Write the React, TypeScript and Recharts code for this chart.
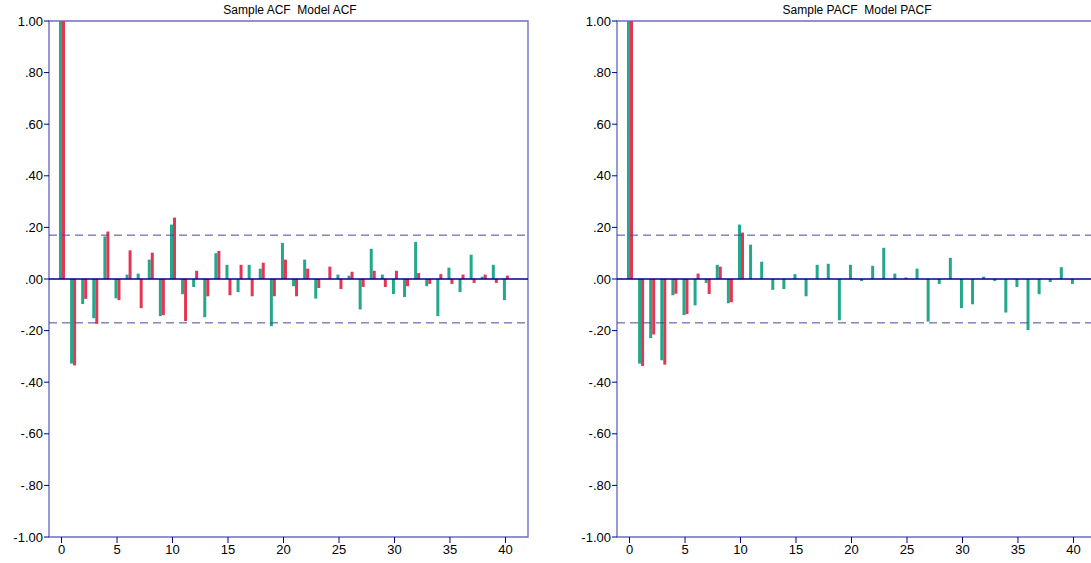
import React from "react";
import {
  ComposedChart,
  Bar,
  XAxis,
  YAxis,
  ReferenceLine,
  ReferenceArea,
} from "recharts";

const lags = [0, 1, 2, 3, 4, 5, 6, 7, 8, 9, 10, 11, 12, 13, 14, 15, 16, 17, 18, 19, 20, 21, 22, 23, 24, 25, 26, 27, 28, 29, 30, 31, 32, 33, 34, 35, 36, 37, 38, 39, 40];

const acfSample = [1.0, -0.328, -0.097, -0.152, 0.165, -0.075, 0.017, 0.021, 0.075, -0.144, 0.211, -0.059, -0.031, -0.148, 0.1, 0.055, -0.051, 0.055, 0.04, -0.183, 0.14, -0.028, 0.075, -0.076, 0.0, 0.017, 0.013, -0.118, 0.117, 0.017, -0.058, -0.07, 0.144, -0.028, -0.144, 0.044, -0.051, 0.094, 0.009, 0.055, -0.082];

const acfModel = [1.0, -0.335, -0.077, -0.174, 0.184, -0.082, 0.111, -0.113, 0.102, -0.14, 0.238, -0.163, 0.032, -0.067, 0.109, -0.063, 0.055, -0.067, 0.063, -0.067, 0.075, -0.067, 0.04, -0.035, 0.048, -0.039, 0.028, -0.031, 0.032, -0.031, 0.032, -0.028, 0.023, -0.019, 0.019, -0.019, 0.017, -0.015, 0.017, -0.015, 0.013];

const pacfSample = [1.0, -0.328, -0.229, -0.315, -0.063, -0.14, -0.102, -0.015, 0.055, -0.094, 0.211, 0.133, 0.067, -0.042, -0.039, 0.019, -0.067, 0.055, 0.059, -0.16, 0.055, -0.008, 0.051, 0.121, 0.021, 0.006, 0.04, -0.165, -0.019, 0.082, -0.113, -0.098, 0.009, -0.008, -0.13, -0.031, -0.198, -0.059, -0.012, 0.046, -0.019];

const pacfModel = [1.0, -0.337, -0.215, -0.332, -0.057, -0.136, 0.021, -0.058, 0.048, -0.09, 0.18, 0, 0, 0, 0, 0, 0, 0, 0, 0, 0, 0, 0, 0, 0, 0, 0, 0, 0, 0, 0, 0, 0, 0, 0, 0, 0, 0, 0, 0, 0];

const xTicks = [0, 5, 10, 15, 20, 25, 30, 35, 40];
const yTicks = [-1, -0.8, -0.6, -0.4, -0.2, 0, 0.2, 0.4, 0.6, 0.8, 1];
const band = 0.17;

const acfTitle = "Sample ACF  Model ACF";
const pacfTitle = "Sample PACF  Model PACF";

const X_DOMAIN: [number, number] = [-1.13, 42.03];
const GREEN = "#23a88b";
const RED = "#e33652";
const NAVY = "#000080";
const FRAME = "#6e6ec2";
const DASH = "#4646a0";
const FONT = "'Liberation Sans', Arial, sans-serif";

const fmtY = (v: number) => {
  const a = Math.abs(v);
  let s = a.toFixed(2);
  if (s.startsWith("0")) s = s.slice(1);
  return (v < 0 ? "-" : "") + s;
};

function Panel({
  sample,
  model,
  width,
  yAxisWidth,
}: {
  sample: number[];
  model: number[];
  width: number;
  yAxisWidth: number;
}) {
  const data = lags.map((l, i) => ({ lag: l, sample: sample[i], model: model[i] }));
  return (
    <ComposedChart
      width={width}
      height={563}
      data={data}
      margin={{ top: 21, right: 17, bottom: 0, left: 0 }}
      barGap={0}
    >
      <XAxis
        dataKey="lag"
        type="number"
        domain={X_DOMAIN}
        ticks={xTicks}
        allowDataOverflow
        axisLine={false}
        tickLine={{ stroke: NAVY, strokeWidth: 1 }}
        tickSize={6}
        tickMargin={2}
        height={26}
        tick={{ fill: "#000", fontSize: 13, fontFamily: FONT }}
        interval={0}
      />
      <YAxis
        type="number"
        domain={[-1, 1]}
        ticks={yTicks}
        allowDataOverflow
        width={yAxisWidth}
        axisLine={false}
        tickLine={{ stroke: NAVY, strokeWidth: 1 }}
        tickSize={5}
        tickMargin={1}
        tickFormatter={fmtY}
        tick={{ fill: "#000", fontSize: 13, fontFamily: FONT }}
        interval={0}
      />
      <ReferenceLine y={band} stroke={DASH} strokeDasharray="8 5" strokeWidth={1} />
      <ReferenceLine y={-band} stroke={DASH} strokeDasharray="8 5" strokeWidth={1} />
      <Bar dataKey="sample" fill={GREEN} barSize={3} isAnimationActive={false} />
      <Bar dataKey="model" fill={RED} barSize={3} isAnimationActive={false} />
      <ReferenceLine y={0} stroke={NAVY} strokeWidth={1.6} />
      <ReferenceArea
        x1={X_DOMAIN[0]}
        x2={X_DOMAIN[1]}
        y1={-1}
        y2={1}
        fill="none"
        stroke={FRAME}
        strokeWidth={1.4}
        ifOverflow="visible"
      />
    </ComposedChart>
  );
}

const titleStyle: React.CSSProperties = {
  position: "absolute",
  top: 3,
  width: 300,
  textAlign: "center",
  fontFamily: FONT,
  fontSize: 12,
  lineHeight: "14px",
  whiteSpace: "pre",
  color: "#000",
};

export default function App() {
  return (
    <div
      style={{
        position: "absolute",
        left: 0,
        top: 0,
        width: 1091,
        height: 563,
        overflow: "hidden",
        background: "#fff",
      }}
    >
      <div style={{ position: "absolute", left: 0, top: 0 }}>
        <Panel sample={acfSample} model={acfModel} width={545} yAxisWidth={49} />
      </div>
      <div style={{ position: "absolute", left: 545, top: 0 }}>
        <Panel sample={pacfSample} model={pacfModel} width={568} yAxisWidth={72} />
      </div>
      <div style={{ ...titleStyle, left: 290 - 150 }}>{acfTitle}</div>
      <div style={{ ...titleStyle, left: 857 - 150 }}>{pacfTitle}</div>
    </div>
  );
}
